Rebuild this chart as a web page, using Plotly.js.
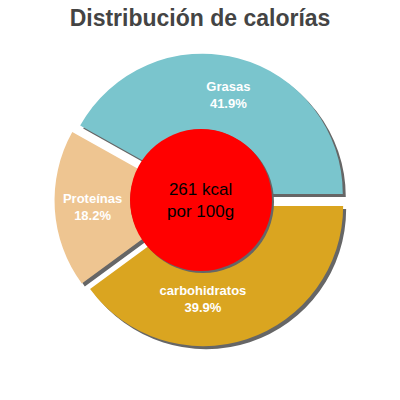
<!DOCTYPE html>
<html>
<head>
<meta charset="utf-8">
<script src="https://cdn.plot.ly/plotly-3.0.1.min.js"></script>
<style>
  html, body { margin: 0; padding: 0; background: #fff; }
  #chart { width: 400px; height: 400px; }
</style>
</head>
<body>
<div id="chart"></div>
<script>
// data
var labels = ['Grasas', 'Proteínas', 'carbohidratos'];
var values = [41.9, 18.2, 39.9];
var colors = ['#7AC5CD', '#EEC591', '#DAA520'];
var centerLines = ['261 kcal', 'por 100g'];

var CHART_DIV = document.getElementById('chart');

// pie box in pixels (400x400 page, no margins)
var cx = 201, cy = 200, boxHalf = 146.5;
var shadowOff = 3;
var pull = 0.045;

// first slice runs counterclockwise from 3 o'clock
var total = values.reduce(function (a, b) { return a + b; }, 0);
var rot = 90 - values[0] / total * 360;

function px(x) { return x / 400; }
function py(y) { return 1 - y / 400; }

var shadowTrace = {
    type: 'pie',
    labels: labels,
    values: values,
    sort: false,
    direction: 'counterclockwise',
    rotation: rot,
    hole: 0.46,
    pull: pull,
    marker: {colors: labels.map(function () { return '#666666'; }), line: {width: 0}},
    textinfo: 'none',
    hoverinfo: 'skip',
    showlegend: false,
    domain: {
        x: [px(cx - boxHalf + shadowOff), px(cx + boxHalf + shadowOff)],
        y: [py(cy + boxHalf + shadowOff), py(cy - boxHalf + shadowOff)]
    }
};

var mainTrace = {
    type: 'pie',
    labels: labels,
    values: values,
    sort: false,
    direction: 'counterclockwise',
    rotation: rot,
    hole: 0.46,
    pull: pull,
    marker: {colors: colors, line: {width: 0}},
    texttemplate: '%{label}<br>%{percent:.1%}',
    textposition: 'inside',
    insidetextorientation: 'horizontal',
    insidetextfont: {family: 'Liberation Sans, Arial, sans-serif', size: 13, color: '#ffffff', weight: 'bold'},
    showlegend: false,
    domain: {
        x: [px(cx - boxHalf), px(cx + boxHalf)],
        y: [py(cy + boxHalf), py(cy - boxHalf)]
    }
};

var r = 71;
var layout = {
    width: 400,
    height: 400,
    margin: {l: 0, r: 0, t: 0, b: 0},
    paper_bgcolor: '#ffffff',
    title: {
        text: 'Distribución de calorías',
        font: {family: 'Liberation Sans, Arial, sans-serif', size: 23, color: '#444444', weight: 'bold'},
        x: 0.5,
        xanchor: 'center',
        y: py(18),
        yanchor: 'middle'
    },
    shapes: [
        {type: 'circle', xref: 'paper', yref: 'paper',
         x0: px(cx - r + 2), x1: px(cx + r + 2), y0: py(cy + r + 2), y1: py(cy - r + 2),
         fillcolor: '#666666', line: {width: 0}},
        {type: 'circle', xref: 'paper', yref: 'paper',
         x0: px(cx - r), x1: px(cx + r), y0: py(cy + r), y1: py(cy - r),
         fillcolor: '#ff0000', line: {width: 0}}
    ],
    annotations: [{
        xref: 'paper', yref: 'paper',
        x: px(cx), y: py(200),
        yanchor: 'middle',
        text: centerLines.join('<br>'),
        showarrow: false,
        font: {family: 'Liberation Sans, Arial, sans-serif', size: 17, color: '#000000'}
    }]
};

Plotly.newPlot(CHART_DIV, [shadowTrace, mainTrace], layout, {staticPlot: true});
</script>
</body>
</html>
